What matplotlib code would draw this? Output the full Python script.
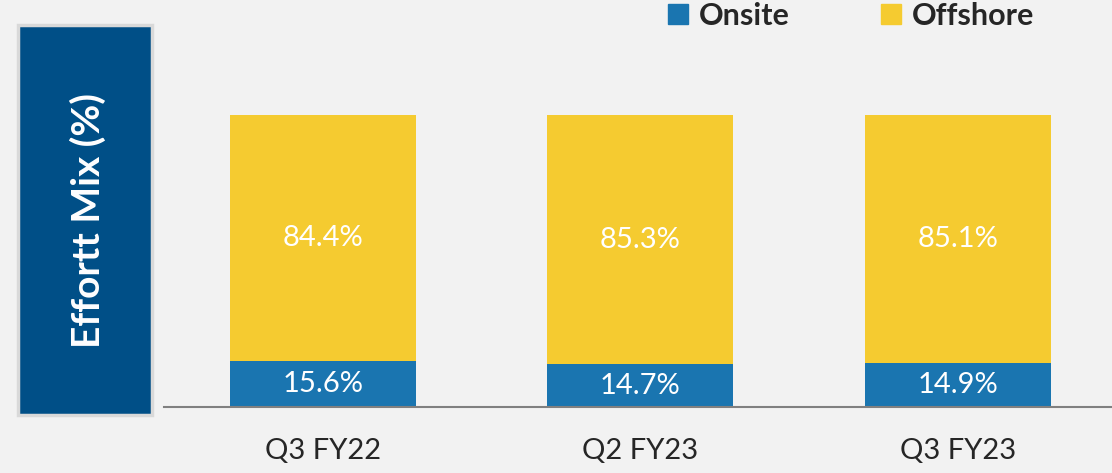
import matplotlib.pyplot as plt
from matplotlib.patches import Rectangle, Patch

# data
quarters = ["Q3 FY22", "Q2 FY23", "Q3 FY23"]
onsite = [15.6, 14.7, 14.9]
offshore = [84.4, 85.3, 85.1]

BG = "#f2f2f2"
BLUE = "#1a75b0"
YELLOW = "#f5cb30"
NAVY = "#004f87"

plt.rcParams["font.family"] = ["Lato", "DejaVu Sans"]

W, H = 1112, 473
fig = plt.figure(figsize=(W / 100, H / 100), dpi=100, facecolor=BG)

# axes spanning the bar area (pixel coords converted to figure fractions)
ax = fig.add_axes([164 / W, (H - 407) / H, (1112 - 164) / W, 292 / H])
ax.set_facecolor(BG)

x = range(len(quarters))
ax.bar(x, onsite, width=0.586, color=BLUE, label="Onsite")
ax.bar(x, offshore, width=0.586, bottom=onsite, color=YELLOW, label="Offshore")

for i in x:
    ax.text(i, onsite[i] / 2, f"{onsite[i]:.1f}%", ha="center", va="center",
            color="white", fontsize=21)
    ax.text(i, onsite[i] + offshore[i] / 2, f"{offshore[i]:.1f}%", ha="center",
            va="center", color="white", fontsize=21)

ax.set_xlim(-0.5, 2.485)
ax.set_ylim(0, 100)
ax.set_xticks(list(x))
ax.set_xticklabels(quarters, fontsize=21, color="#262626")
ax.tick_params(axis="x", length=0, pad=22)
ax.set_yticks([])
for s in ["top", "right", "left"]:
    ax.spines[s].set_visible(False)
ax.spines["bottom"].set_color("#808080")
ax.spines["bottom"].set_linewidth(1.5)

# navy box with rotated label
fig.patches.append(Rectangle((18 / W, (H - 415) / H), 134 / W, 390 / H,
                             transform=fig.transFigure, facecolor=NAVY,
                             edgecolor="#d9d9d9", linewidth=2.5))
fig.text(88 / W, (H - 221) / H, "Effortt Mix (%)", rotation=90, ha="center",
         va="center", color="white", fontsize=28, fontweight="bold")

# legend
handles = [Patch(color=BLUE, label="Onsite"), Patch(color=YELLOW, label="Offshore")]
leg = fig.legend(handles=handles, loc="upper right", bbox_to_anchor=(1034 / W, 1.0 - 2 / H),
                 ncol=2, frameon=False, handlelength=0.65, handleheight=0.65,
                 handletextpad=0.35, columnspacing=3.0, borderpad=0, borderaxespad=0,
                 prop={"size": 22, "weight": "bold"})
for t in leg.get_texts():
    t.set_color("#262626")

fig.savefig("out.png", dpi=100, facecolor=BG)
